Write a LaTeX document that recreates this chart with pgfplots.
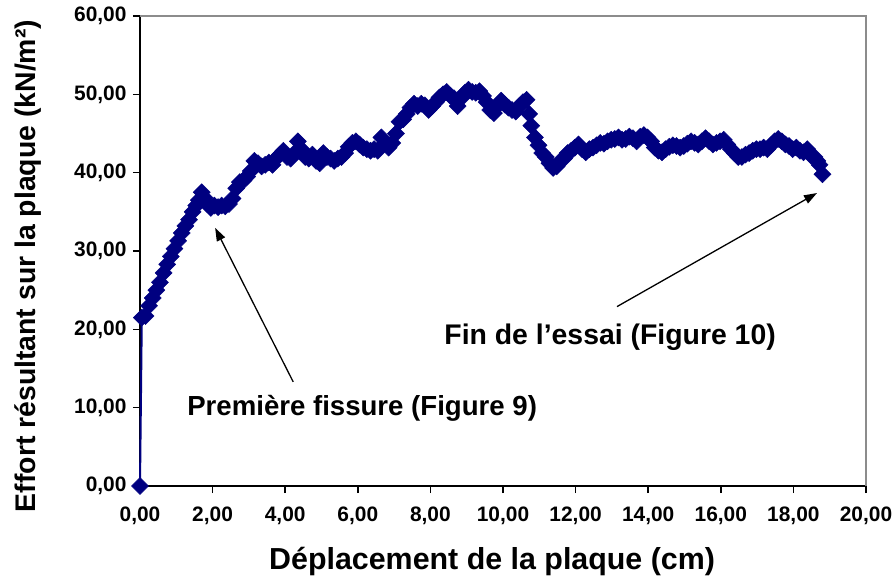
\documentclass[border=0pt]{standalone}
\usepackage{fontspec}
\setmainfont{Liberation Sans}
\usepackage{pgfplots}
\pgfplotsset{compat=1.18}
\usetikzlibrary{arrows.meta}
\definecolor{navy}{RGB}{0,0,128}
\pgfplotstableread{
x y
0 0
0.05 21.5
0.15 21.7
0.25 23.0
0.35 24.0
0.45 25.0
0.55 26.0
0.65 27.2
0.75 28.3
0.85 29.3
0.95 30.3
1.05 31.3
1.15 32.3
1.25 33.2
1.35 34.0
1.45 35.0
1.55 35.8
1.62 36.5
1.70 37.5
1.78 36.8
1.85 36.0
1.95 35.5
2.05 35.8
2.15 35.6
2.25 35.8
2.35 35.7
2.45 36.0
2.55 36.7
2.65 38.0
2.75 38.8
2.85 39.0
2.95 39.5
3.05 40.2
3.15 41.5
3.25 41.2
3.35 40.8
3.45 41.0
3.55 41.3
3.65 41.0
3.75 41.8
3.85 42.3
3.95 42.8
4.05 42.0
4.15 41.8
4.25 42.5
4.35 44.0
4.45 43.0
4.55 42.0
4.65 41.8
4.75 42.3
4.85 41.5
4.95 41.2
5.05 42.5
5.15 42.0
5.25 41.8
5.35 41.5
5.45 41.8
5.55 42.0
5.65 42.5
5.75 43.3
5.85 43.8
5.95 44.0
6.05 43.6
6.15 43.2
6.25 43.0
6.35 42.8
6.45 43.0
6.55 42.8
6.65 44.5
6.75 43.8
6.85 43.2
6.95 43.8
7.05 45.0
7.15 46.5
7.25 46.8
7.35 47.5
7.45 48.3
7.55 48.8
7.65 48.5
7.75 48.8
7.85 48.6
7.95 48.0
8.05 48.5
8.15 49.0
8.25 49.6
8.35 50.0
8.45 50.3
8.55 49.8
8.65 49.5
8.75 48.5
8.85 49.5
8.95 50.2
9.05 50.6
9.15 50.3
9.25 50.2
9.35 50.4
9.45 49.8
9.55 49.0
9.65 48.0
9.75 47.6
9.85 48.5
9.95 49.2
10.05 48.7
10.15 48.3
10.25 48.0
10.35 47.8
10.45 48.5
10.55 49.0
10.65 49.3
10.72 47.5
10.78 46.0
10.88 44.5
10.98 43.5
11.08 42.5
11.18 42.0
11.28 41.2
11.38 40.6
11.48 40.8
11.58 41.5
11.68 41.8
11.78 42.5
11.88 42.8
11.98 43.2
12.08 43.6
12.18 43.0
12.28 42.6
12.38 43.0
12.48 43.2
12.58 43.5
12.68 43.8
12.78 43.7
12.88 44.0
12.98 44.2
13.08 44.3
13.18 44.5
13.28 44.2
13.38 44.3
13.48 44.6
13.58 44.4
13.68 44.0
13.78 44.6
13.88 44.8
13.98 44.5
14.08 44.0
14.18 43.2
14.28 42.8
14.38 42.6
14.48 43.0
14.58 43.3
14.68 43.5
14.78 43.4
14.88 43.2
14.98 43.4
15.08 43.7
15.18 44.0
15.28 43.8
15.38 43.6
15.48 44.0
15.58 44.4
15.68 44.0
15.78 43.6
15.88 43.8
15.98 44.0
16.08 44.2
16.18 43.6
16.28 43.0
16.38 42.5
16.48 42.0
16.58 42.0
16.68 42.3
16.78 42.5
16.88 42.8
16.98 43.0
17.08 43.0
17.18 43.2
17.28 43.0
17.38 43.5
17.48 44.0
17.58 44.3
17.68 44.0
17.78 43.6
17.88 43.4
17.98 43.0
18.08 43.2
18.18 42.8
18.28 42.6
18.38 43.0
18.48 42.2
18.58 42.0
18.66 41.5
18.72 41.0
18.80 39.8
}\datatable
\begin{document}
\begin{tikzpicture}
\begin{axis}[
  scale only axis,
  width=726bp, height=470bp,
  xmin=0, xmax=20, ymin=0, ymax=60,
  xtick distance=2, ytick distance=10,
  axis x line*=bottom, axis y line*=left,
  axis line style={line width=1.5bp, black},
  tick align=outside,
  major tick length=7bp,
  tick style={line width=1.5bp, black},
  /pgf/number format/.cd, fixed, fixed zerofill, precision=2, use comma, assume math mode=true,
  /pgfplots/.cd,
  ticklabel style={font=\fontsize{21}{24}\selectfont\bfseries},
  xticklabel style={yshift=-10bp},
  yticklabel style={xshift=-3bp},
  xlabel={Déplacement de la plaque (cm)},
  ylabel={Effort résultant sur la plaque (kN/m²)},
  xlabel style={font=\fontsize{30.5}{34}\selectfont\bfseries, at={(axis description cs:0.485,-0.16)}, anchor=center},
  ylabel style={font=\fontsize{28.5}{32}\selectfont\bfseries, at={(axis description cs:-0.154,0.468)}, anchor=center},
  clip=false,
]
\addplot[color=navy, line width=2bp, mark=square*, mark size=6bp,
  mark options={rotate=45, fill=navy, draw=navy, line width=0.5bp}] table[x=x,y=y] {\datatable};
\draw[gray!90, line width=1.5bp] (axis cs:0,60) -- (axis cs:20,60) -- (axis cs:20,0);
\node[font=\fontsize{27.7}{30}\selectfont\bfseries] at (axis cs:6.12,9.96) {Première fissure (Figure 9)};
\node[font=\fontsize{28.5}{30}\selectfont\bfseries] at (axis cs:12.95,19.0) {Fin de l’essai (Figure 10)};
\draw[line width=1.3bp, -{Triangle[length=13bp,width=9bp]}] (axis cs:4.22,13.3) -- (axis cs:2.07,32.95);
\draw[line width=1.3bp, -{Triangle[length=13bp,width=9bp]}] (axis cs:13.14,22.9) -- (axis cs:18.65,37.4);
\end{axis}
\pgfresetboundingbox
\path ([shift={(-140bp,-95bp)}]current axis.south west) rectangle ([shift={(28bp,16bp)}]current axis.north east);
\end{tikzpicture}
\end{document}
